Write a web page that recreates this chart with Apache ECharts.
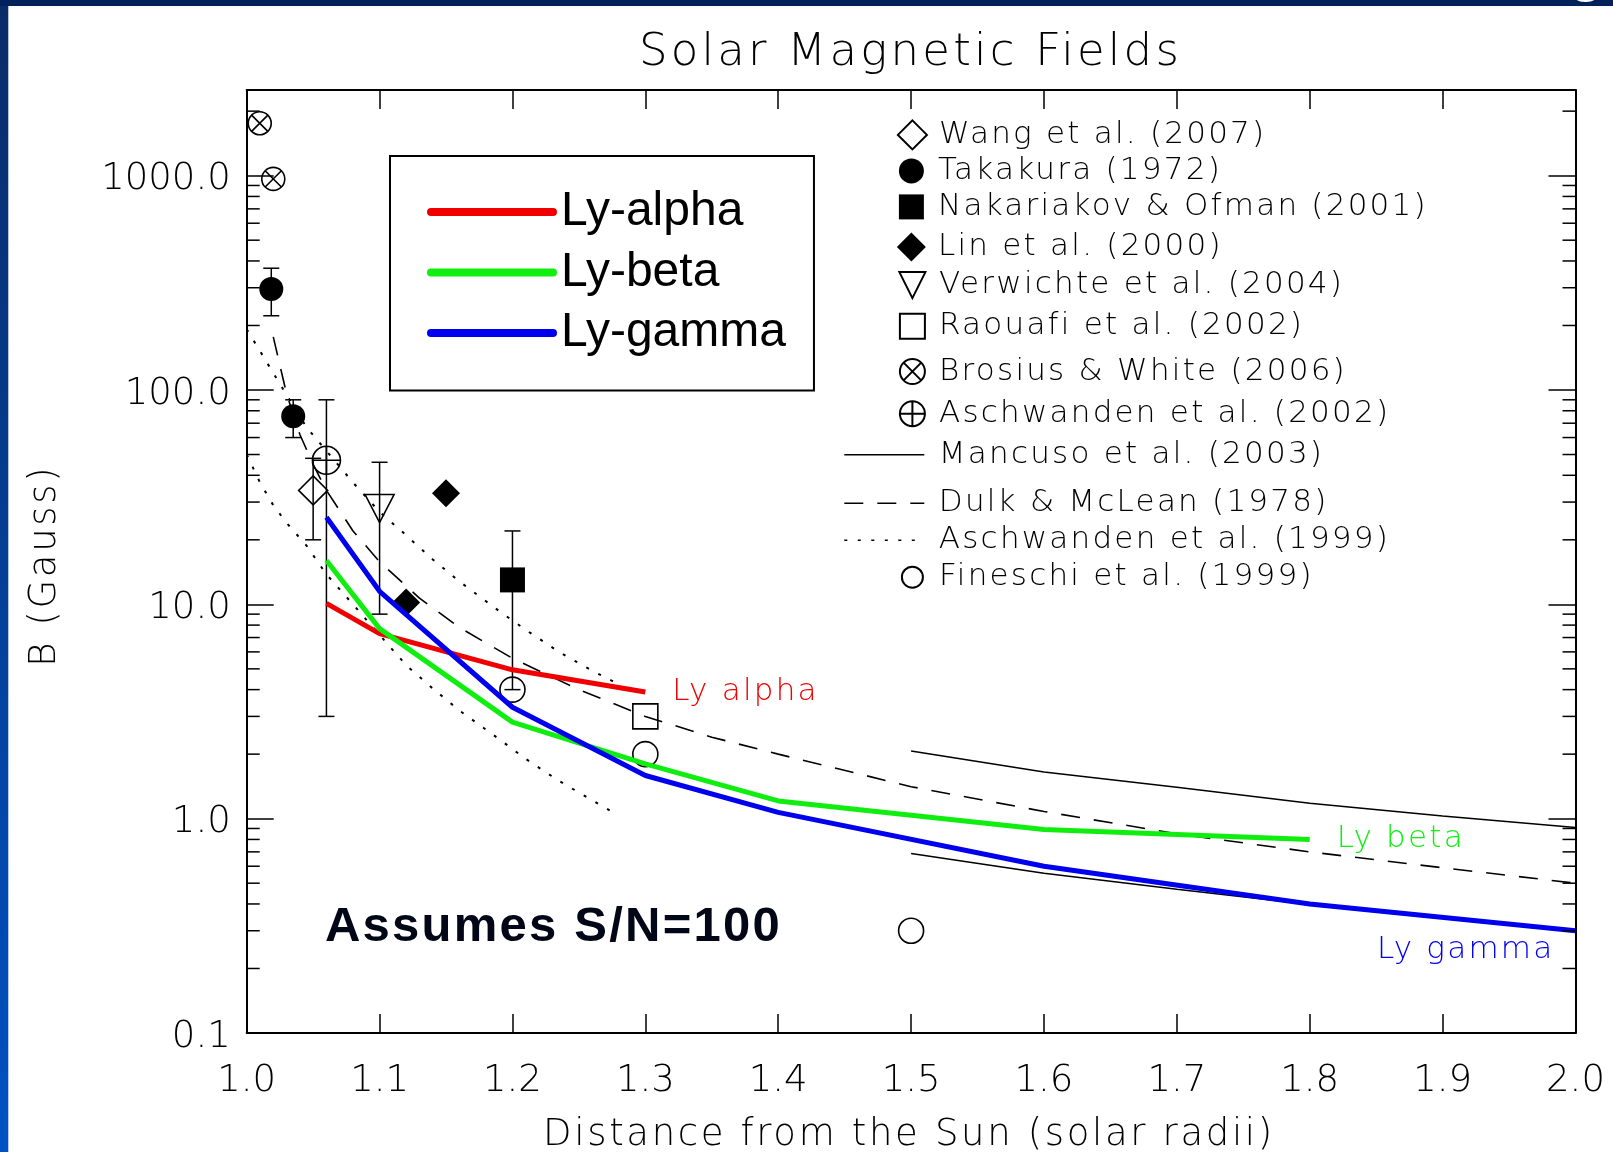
<!DOCTYPE html>
<html>
<head>
<meta charset="utf-8">
<title>Solar Magnetic Fields</title>
<script src="https://cdn.jsdelivr.net/npm/echarts@6/dist/echarts.min.js"></script>
<style>
html,body{margin:0;padding:0;background:#ffffff;}
#chart{width:1613px;height:1152px;}
</style>
</head>
<body>
<div id="chart"></div>
<script>
// Wide, thin "vector-font" look: extra letter spacing for texts whose family list ends with sans-serif
(function () {
  var P = CanvasRenderingContext2D.prototype, orig = P.fillText;
  P.fillText = function (t, x, y, m) {
    var f = this.font || '';
    if (f.indexOf('sans-serif') >= 0 && ('letterSpacing' in this)) {
      var mm = f.match(/([\d.]+)px/);
      var s = mm ? parseFloat(mm[1]) : 0;
      var prev = this.letterSpacing;
      this.letterSpacing = (s * 0.072).toFixed(2) + 'px';
      var r = (m === undefined) ? orig.call(this, t, x, y) : orig.call(this, t, x, y, m);
      this.letterSpacing = prev;
      return r;
    }
    return (m === undefined) ? orig.call(this, t, x, y) : orig.call(this, t, x, y, m);
  };
})();

// ---------------- data ----------------
const xTickLabels = ['1.0','1.1','1.2','1.3','1.4','1.5','1.6','1.7','1.8','1.9','2.0'];
const yTickLabels = ['0.1','1.0','10.0','100.0','1000.0'];
const yMinorTicks = [0.2,0.3,0.4,0.5,0.6,0.7,0.8,0.9, 2,3,4,5,6,7,8,9, 20,30,40,50,60,70,80,90, 200,300,400,500,600,700,800,900, 2000];

const lyAlphaX = [1.06, 1.1, 1.2, 1.3];
const lyAlpha  = [10.1, 7.3, 4.95, 3.9];
const lyBetaX  = [1.06, 1.1, 1.2, 1.3, 1.4, 1.6, 1.8];
const lyBeta   = [16.0, 7.7, 2.82, 1.80, 1.21, 0.89, 0.80];
const lyGammaX = [1.06, 1.1, 1.2, 1.3, 1.4, 1.6, 1.8, 2.0];
const lyGamma  = [25.5, 11.5, 3.31, 1.59, 1.07, 0.60, 0.40, 0.30];

const mancusoX     = [1.5, 1.6, 1.7, 1.8, 1.9, 2.0];
const mancusoUpper = [2.07, 1.65, 1.40, 1.18, 1.03, 0.91];
const mancusoLower = [0.687, 0.557, 0.468, 0.398, 0.345, 0.30];

const dulkX = [1.02, 1.03, 1.04, 1.05, 1.06, 1.08, 1.1, 1.13, 1.16, 1.2, 1.25, 1.3, 1.35, 1.4, 1.5, 1.6, 1.7, 1.8, 1.9, 2.0];
const dulk  = [177, 96, 62, 45, 34, 22, 15.8, 10.7, 7.8, 5.6, 4.0, 3.0, 2.4, 2.0, 1.41, 1.08, 0.85, 0.70, 0.59, 0.50];

const asch99X     = [1.0, 1.01, 1.02, 1.03, 1.045, 1.06, 1.08, 1.1, 1.12, 1.14, 1.16, 1.19, 1.21, 1.235, 1.26, 1.278];
const asch99Upper = [192, 152, 120, 95, 67, 52, 37, 27, 21, 16.2, 12.8, 9.3, 7.6, 6.0, 4.9, 4.3];
const asch99Lower = [50, 37, 29, 24, 18.8, 13.8, 10.0, 7.2, 5.2, 4.05, 3.2, 2.35, 1.9, 1.5, 1.22, 1.05];

const wangX = [1.05],            wangY = [34];
const takakuraX = [1.0185, 1.035], takakuraY = [296, 75.5];
const nakariakovX = [1.2],       nakariakovY = [13.0];
const linX = [1.12, 1.15],       linY = [10.2, 33];
const verwichteX = [1.1],        verwichteY = [28];
const raouafiX = [1.3],          raouafiY = [3.0];
const brosiusX = [1.0098, 1.02], brosiusY = [1755, 966];
const asch02X = [1.06],          asch02Y = [47];
const fineschiX = [1.2, 1.3, 1.5], fineschiY = [4.0, 2.0, 0.3];

// error bars: x, low, high
const errX    = [1.0185, 1.035, 1.05, 1.06, 1.1, 1.2];
const errLow  = [222, 60, 20, 3.0, 9.0, 4.0];
const errHigh = [370, 90, 48, 90, 46, 22];

// ---------------- helpers ----------------
const pairs = (xs, ys) => xs.map((x, i) => [x, ys[i]]);
const THIN = 'DejaVu Sans, sans-serif';
const RED = '#f00000', GREEN = '#10ee10', BLUE = '#0000ee';

const P_DIAMOND = 'path://M0,-10L10,0L0,10L-10,0Z';
const P_SQUARE  = 'path://M-10,-10L10,-10L10,10L-10,10Z';
const P_TRIDOWN = 'path://M-10,-10L10,-10L0,10Z';
const P_CIRCX   = 'path://M10,0A10,10,0,1,1,-10,0A10,10,0,1,1,10,0ZM-7.07,-7.07L7.07,7.07M7.07,-7.07L-7.07,7.07';
const P_CIRCP   = 'path://M10,0A10,10,0,1,1,-10,0A10,10,0,1,1,10,0ZM-10,0L10,0M0,-10L0,10';

const openStyle = {color: 'rgba(0,0,0,0)', borderColor: '#000', borderWidth: 1.6, opacity: 1};
const fillStyle = {color: '#000', borderWidth: 0, opacity: 1};

function scatter(name, xs, ys, symbol, size, style) {
  return {type: 'scatter', name, data: pairs(xs, ys), symbol, symbolSize: size,
          itemStyle: style, clip: false, z: 4, emphasis: {disabled: true}};
}
function thinLine(name, xs, ys, type, width) {
  return {type: 'line', name, data: pairs(xs, ys), symbol: 'none', smooth: false,
          lineStyle: {color: '#000', width: width, type: type}, itemStyle: {color: '#000'}, z: 2, emphasis: {disabled: true}};
}
function lyLine(name, xs, ys, color, label, labelOpt) {
  return {type: 'line', name, data: pairs(xs, ys), symbol: 'none', smooth: false,
          lineStyle: {color, width: 5}, itemStyle: {color}, z: 5, emphasis: {disabled: true},
          endLabel: Object.assign({show: true, formatter: label, color,
            fontFamily: THIN, fontWeight: 200, fontSize: 31}, labelOpt)};
}

const DOT = [3, 10.5], DASH = [19, 14];

const series = [
  thinLine('Mancuso et al. (2003)', mancusoX, mancusoUpper, 'solid', 1.5),
  thinLine('Mancuso et al. (2003)', mancusoX, mancusoLower, 'solid', 1.5),
  thinLine('Dulk & McLean (1978)', dulkX, dulk, DASH, 1.6),
  thinLine('Aschwanden et al. (1999)', asch99X, asch99Upper, DOT, 2),
  thinLine('Aschwanden et al. (1999)', asch99X, asch99Lower, DOT, 2),
  {
    type: 'custom', name: 'errorbars', silent: true, z: 3,
    data: errX.map((x, i) => [x, errLow[i], errHigh[i]]),
    encode: {x: 0, y: [1, 2]},
    renderItem: function (params, api) {
      const x = api.value(0);
      const a = api.coord([x, api.value(1)]), b = api.coord([x, api.value(2)]);
      const st = {stroke: '#000', lineWidth: 1.5};
      return {type: 'group', children: [
        {type: 'line', shape: {x1: a[0], y1: a[1], x2: b[0], y2: b[1]}, style: st},
        {type: 'line', shape: {x1: a[0] - 8, y1: a[1], x2: a[0] + 8, y2: a[1]}, style: st},
        {type: 'line', shape: {x1: b[0] - 8, y1: b[1], x2: b[0] + 8, y2: b[1]}, style: st}
      ]};
    }
  },
  scatter('Wang et al. (2007)', wangX, wangY, P_DIAMOND, [29, 29], openStyle),
  scatter('Takakura (1972)', takakuraX, takakuraY, 'circle', 24, fillStyle),
  scatter('Nakariakov & Ofman (2001)', nakariakovX, nakariakovY, P_SQUARE, [25, 25], fillStyle),
  scatter('Lin et al. (2000)', linX, linY, P_DIAMOND, [28, 28], fillStyle),
  scatter('Verwichte et al. (2004)', verwichteX, verwichteY, P_TRIDOWN, [29, 28], openStyle),
  scatter('Raouafi et al. (2002)', raouafiX, raouafiY, P_SQUARE, [25, 25], openStyle),
  scatter('Brosius & White (2006)', brosiusX, brosiusY, P_CIRCX, [23, 23], openStyle),
  scatter('Aschwanden et al. (2002)', asch02X, asch02Y, P_CIRCP, [28, 28], openStyle),
  scatter('Fineschi et al. (1999)', fineschiX, fineschiY, 'circle', 25, openStyle),
  lyLine('Ly-alpha', lyAlphaX, lyAlpha, RED, 'Ly alpha', {distance: 27}),
  lyLine('Ly-beta', lyBetaX, lyBeta, GREEN, 'Ly beta', {distance: 27}),
  lyLine('Ly-gamma', lyGammaX, lyGamma, BLUE, 'Ly gamma', {distance: 0, align: 'right', offset: [-21, 19]}),
  {
    type: 'custom', name: 'minorTicks', silent: true, z: 6,
    data: yMinorTicks.map(v => [1, v]),
    encode: {x: 0, y: 1},
    renderItem: function (params, api) {
      const v = api.value(1);
      const l = api.coord([1, v]), r = api.coord([2, v]);
      const st = {stroke: '#000', lineWidth: 1.5};
      return {type: 'group', children: [
        {type: 'line', shape: {x1: l[0], y1: l[1], x2: l[0] + 13, y2: l[1]}, style: st},
        {type: 'line', shape: {x1: r[0] - 13, y1: r[1], x2: r[0], y2: r[1]}, style: st}
      ]};
    }
  }
];

// right-hand key: one legend per row
const keyRows = [
  {name: 'Wang et al. (2007)',        cy: 132.7, w: 29},
  {name: 'Takakura (1972)',           cy: 168.7, w: 25},
  {name: 'Nakariakov & Ofman (2001)', cy: 204.7, w: 25},
  {name: 'Lin et al. (2000)',         cy: 244.8, w: 29},
  {name: 'Verwichte et al. (2004)',   cy: 282.9, w: 26},
  {name: 'Raouafi et al. (2002)',     cy: 324.0, w: 25},
  {name: 'Brosius & White (2006)',    cy: 369.3, w: 25},
  {name: 'Aschwanden et al. (2002)',  cy: 411.5, w: 25},
  {name: 'Mancuso et al. (2003)',     cy: 452.6, line: 'solid'},
  {name: 'Dulk & McLean (1978)',      cy: 501.0, line: DASH},
  {name: 'Aschwanden et al. (1999)',  cy: 538.0, line: DOT},
  {name: 'Fineschi et al. (1999)',    cy: 575.0, w: 21}
];
const KEY_CX = 911.4, KEY_TEXT_X = 938, ROW_H = 36, KEY_SHIFT = 4.7;
const keyLegends = keyRows.map(r => {
  const iw = r.line ? 80 : r.w;
  const left = r.line ? 843.5 : KEY_CX - iw / 2;
  const lg = {
    data: [r.name], orient: 'horizontal', left: left, top: r.cy - ROW_H / 2 + KEY_SHIFT,
    padding: 0, itemWidth: iw, itemHeight: ROW_H, selectedMode: false,
    textStyle: {fontFamily: THIN, fontWeight: 200, fontSize: 31, color: '#000',
                padding: [0, 0, 0, KEY_TEXT_X - (left + iw + 5)]}
  };
  if (r.line) {
    lg.lineStyle = {type: r.line, width: 1.6, color: '#000'};
    lg.itemStyle = {opacity: 0};
  }
  return lg;
});

const lyLegend = {
  data: ['Ly-alpha', 'Ly-beta', 'Ly-gamma'], orient: 'vertical',
  left: 390, top: 156, padding: [32, 28, 33.5, 37],
  itemWidth: 122, itemHeight: 48, itemGap: 12.5, selectedMode: false,
  backgroundColor: '#ffffff', borderColor: '#000', borderWidth: 2,
  lineStyle: {width: 8, cap: 'round', opacity: 1},
  itemStyle: {opacity: 0},
  textStyle: {fontFamily: 'Liberation Sans', fontSize: 48, color: '#000', padding: [0, 0, 0, 3]}
};

const axisLineStyle = {show: true, onZero: false, lineStyle: {color: '#000', width: 2}};
const tickFont = {fontFamily: 'DejaVu Sans', fontWeight: 200, fontSize: 37, color: '#000'};

const option = {
  animation: false,
  backgroundColor: '#ffffff',
  grid: {left: 246.7, right: 37.5, top: 90, bottom: 119, containLabel: false},
  xAxis: [
    {type: 'value', min: 1, max: 2, interval: 0.1, position: 'bottom',
     axisLine: axisLineStyle,
     axisTick: {show: true, inside: true, length: 19, lineStyle: {color: '#000', width: 1.5}},
     axisLabel: Object.assign({show: true, margin: 30,
       formatter: v => xTickLabels[Math.round((v - 1) * 10)] || v.toFixed(1)}, tickFont),
     splitLine: {show: false}},
    {type: 'value', min: 1, max: 2, interval: 0.1, position: 'top',
     axisLine: axisLineStyle,
     axisTick: {show: true, inside: true, length: 19, lineStyle: {color: '#000', width: 1.5}},
     axisLabel: {show: false}, splitLine: {show: false}}
  ],
  yAxis: [
    {type: 'log', logBase: 10, min: 0.1, max: 2510, position: 'left',
     axisLine: axisLineStyle,
     axisTick: {show: true, inside: true, length: 27, lineStyle: {color: '#000', width: 1.5}},
     axisLabel: Object.assign({show: true, margin: 16, showMaxLabel: false,
       formatter: v => {
         const k = Math.round(Math.log10(v)) + 1;
         return yTickLabels[k] !== undefined ? '{t|' + yTickLabels[k] + '}' : '';
       },
       rich: {t: {fontFamily: 'DejaVu Sans', fontWeight: 200, fontSize: 37, color: '#000', padding: [8, 0, 0, 0]}}
     }, tickFont),
     splitLine: {show: false}, minorTick: {show: false}},
    {type: 'log', logBase: 10, min: 0.1, max: 2510, position: 'right',
     axisLine: axisLineStyle,
     axisTick: {show: true, inside: true, length: 27, lineStyle: {color: '#000', width: 1.5}},
     axisLabel: {show: false}, splitLine: {show: false}}
  ],
  legend: [lyLegend].concat(keyLegends),
  series: series,
  graphic: [
    {type: 'rect', z: 100, silent: true, shape: {x: 0, y: 0, width: 8.3, height: 1152},
     style: {fill: {type: 'linear', x: 0, y: 0, x2: 0, y2: 1,
       colorStops: [{offset: 0, color: '#0a2b68'}, {offset: 1, color: '#0052c4'}]}}},
    {type: 'rect', z: 100, silent: true, shape: {x: 0, y: 0, width: 1613, height: 6},
     style: {fill: '#00215a'}},
    {type: 'text', z: 101, silent: true, x: 1569, y: -25,
     style: {text: 'g', fontFamily: 'Liberation Sans', fontWeight: 'bold', fontSize: 56, fill: '#ffffff',
             align: 'left', verticalAlign: 'middle'}},
    {type: 'text', z: 100, silent: true, x: 910.5, y: 53,
     style: {text: 'Solar Magnetic Fields', fontFamily: THIN, fontWeight: 200, fontSize: 45, fill: '#000',
             align: 'center', verticalAlign: 'middle'}},
    {type: 'text', z: 100, silent: true, x: 909, y: 1135,
     style: {text: 'Distance from the Sun (solar radii)', fontFamily: THIN, fontWeight: 200, fontSize: 37, fill: '#000',
             align: 'center', verticalAlign: 'middle'}},
    {type: 'text', z: 100, silent: true, x: 45, y: 565.8, rotation: Math.PI / 2,
     style: {text: 'B (Gauss)', fontFamily: THIN, fontWeight: 200, fontSize: 37, fill: '#000',
             align: 'center', verticalAlign: 'middle'}},
    {type: 'text', z: 100, silent: true, x: 325, y: 927,
     style: {text: 'Assumes S/N=100', fontFamily: 'Liberation Sans', fontWeight: 'bold', fontSize: 49, fill: '#020717',
             align: 'left', verticalAlign: 'middle'}}
  ]
};

const chart = echarts.init(document.getElementById('chart'), null, {renderer: 'canvas'});
chart.setOption(option);
</script>
</body>
</html>
